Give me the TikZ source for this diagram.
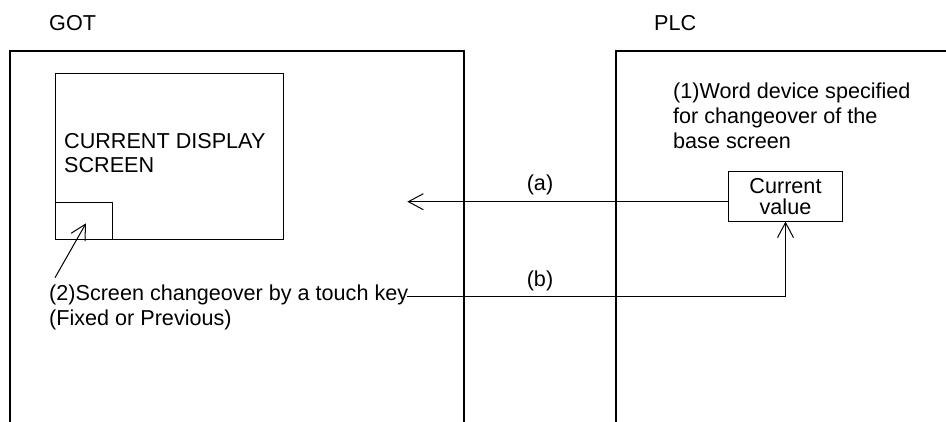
\documentclass[tikz,border=0pt]{standalone}
\usepackage{fontspec}
\setmainfont{Liberation Sans}
\usetikzlibrary{arrows.meta}
\begin{document}
\begin{tikzpicture}[x=1pt,y=-1pt,
  frame/.style={line width=1.7pt},
  thinline/.style={line width=1pt},
  lbl/.style={font=\fontsize{21.6}{25}\selectfont, inner sep=0pt, align=left},
  boxnode/.style={draw, inner sep=0pt, anchor=north west},
  arr/.style={thinline, -{Straight Barb[length=15pt,width=16pt,line width=1pt]}}]
\useasboundingbox[fill=white] (0,0) rectangle (946,421);
% titles
\node[lbl, anchor=base west] (got) at (49,30) {GOT};
\node[lbl, anchor=base west] (plc) at (654,30) {PLC};
% frames
\draw[frame] (10,422) -- (10,51) -- (464,51) -- (464,422);
\draw[frame] (616,422) -- (616,51) -- (947,51);
% GOT screen
\node[boxnode, line width=1.2pt, minimum width=228pt, minimum height=166pt] (screen) at (55,73) {};
\node[boxnode, line width=1pt, minimum width=57pt, minimum height=37pt] (key) at (55,202) {};
\node[lbl, font=\fontsize{21.6}{24}\selectfont, anchor=base west] (scrtext) at (64,172) {CURRENT DISPLAY\\SCREEN};
% PLC side
\node[lbl, anchor=base west] (wd) at (673,148.5) {(1)Word device specified\\for changeover of the\\base screen};
\node[draw, line width=1pt, inner sep=0pt, minimum width=114pt, minimum height=49.5pt, align=center,
      font=\fontsize{21.6}{21}\selectfont] (cv) at (785.5,196.3) {Current\\value};
% labels
\node[lbl, anchor=base] (la) at (540,190.7) {(a)};
\node[lbl, anchor=base] (lb) at (540,286) {(b)};
\node[lbl, anchor=base west] (tk) at (49,325) {(2)Screen changeover by a touch key\\(Fixed or Previous)};
% connectors
\coordinate (atip) at (407.3,201.7);
\draw[arr] (cv.west |- atip) -- (atip);
\coordinate (bstart) at (407,296.5);
\draw[arr] (bstart) -| (cv.south);
\coordinate (dstart) at (55,277.7);
\coordinate (ktip) at (86,223.3);
\draw[arr] (dstart) -- (ktip);
\end{tikzpicture}
\end{document}
